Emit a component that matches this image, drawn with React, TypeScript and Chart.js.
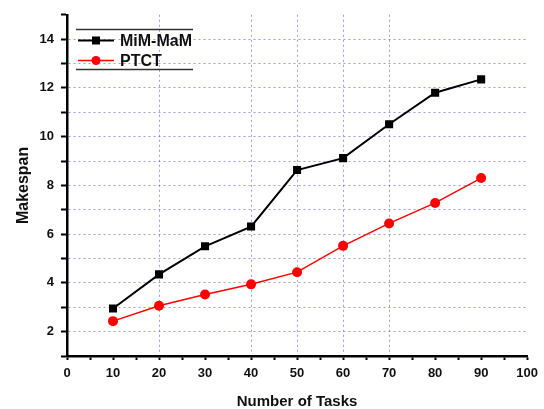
import React, { useEffect, useRef } from "react";
import { Chart, registerables } from "chart.js";

Chart.register(...registerables);

const tasks = [10, 20, 30, 40, 50, 60, 70, 80, 90];
const mimMam = [2.95, 4.35, 5.5, 6.31, 8.63, 9.12, 10.51, 11.8, 12.35];
const ptct = [2.43, 3.06, 3.52, 3.94, 4.44, 5.52, 6.44, 7.28, 8.3];
const seriesNames = ["MiM-MaM", "PTCT"];
const xGridAt = [20, 40, 50, 60, 70];
const yLabelEvery = 2;
const xLabelEvery = 10;

const FONT = "'Liberation Sans', Arial, sans-serif";
const GRID = "rgba(60,60,200,0.5)";

const legendPlugin = {
  id: "boxLegend",
  afterDraw(chart: any) {
    const ctx = chart.ctx as CanvasRenderingContext2D;
    ctx.save();
    ctx.strokeStyle = "#333";
    ctx.lineWidth = 1.5;
    ctx.beginPath();
    ctx.moveTo(76, 29.5);
    ctx.lineTo(193, 29.5);
    ctx.moveTo(76, 69.5);
    ctx.lineTo(193, 69.5);
    ctx.stroke();
    const items = chart.data.datasets.map((d: any, i: number) => ({
      label: d.label,
      color: d.borderColor,
      style: d.pointStyle,
      y: i === 0 ? 40.5 : 60.5,
    }));
    for (const it of items) {
      ctx.strokeStyle = it.color;
      ctx.fillStyle = it.color;
      ctx.lineWidth = it.style === "rect" ? 2 : 1.5;
      ctx.beginPath();
      ctx.moveTo(78, it.y);
      ctx.lineTo(114, it.y);
      ctx.stroke();
      if (it.style === "rect") {
        ctx.fillRect(92, it.y - 4, 8, 8);
      } else {
        ctx.beginPath();
        ctx.arc(96, it.y, 4.5, 0, Math.PI * 2);
        ctx.fill();
      }
      ctx.fillStyle = "#111";
      ctx.font = `bold 16px ${FONT}`;
      ctx.textBaseline = "middle";
      ctx.textAlign = "left";
      ctx.fillText(it.label, 120, it.y + 1);
    }
    ctx.restore();
  },
};

export default function App() {
  const ref = useRef<HTMLCanvasElement | null>(null);
  useEffect(() => {
    if (!ref.current) return;
    const chart = new Chart(ref.current, {
      type: "line",
      data: {
        datasets: [
          {
            label: seriesNames[0],
            data: tasks.map((t, i) => ({ x: t, y: mimMam[i] })),
            borderColor: "#000000",
            backgroundColor: "#000000",
            borderWidth: 2,
            pointStyle: "rect",
            pointRadius: 5.7,
            pointBorderWidth: 0,
          },
          {
            label: seriesNames[1],
            data: tasks.map((t, i) => ({ x: t, y: ptct[i] })),
            borderColor: "#ff0000",
            backgroundColor: "#ff0000",
            borderWidth: 1.5,
            pointStyle: "circle",
            pointRadius: 5,
            pointBorderWidth: 0,
          },
        ],
      },
      options: {
        animation: false,
        responsive: false,
        maintainAspectRatio: false,
        layout: { padding: { top: 10, right: 15, left: 0, bottom: 0 } },
        plugins: { legend: { display: false }, tooltip: { enabled: false } },
        scales: {
          x: {
            type: "linear",
            min: 0,
            max: 100,
            afterFit: (s: any) => {
              s.height = 53;
            },
            ticks: {
              stepSize: 5,
              autoSkip: false,
              maxRotation: 0,
              padding: 6,
              color: "#111",
              font: { family: FONT, size: 13, weight: "bold" },
              callback: (v: any) => (Number(v) % xLabelEvery === 0 ? String(v) : ""),
            },
            grid: {
              color: (c: any) =>
                c.tick && xGridAt.includes(c.tick.value) ? GRID : "rgba(0,0,0,0)",
              lineWidth: 1,
              tickColor: "#000",
              tickWidth: 2,
              tickLength: 4,
            },
            border: { display: true, color: "#000", width: 2.5, dash: [2, 3] },
            title: {
              display: true,
              text: "Number of Tasks",
              color: "#111",
              font: { family: FONT, size: 15, weight: "bold", lineHeight: 1.0 },
              padding: { top: 0, bottom: 0 },
            },
          },
          y: {
            type: "linear",
            min: 1,
            max: 15,
            afterFit: (s: any) => {
              s.width = 67;
            },
            ticks: {
              stepSize: 1,
              autoSkip: false,
              padding: 7,
              color: "#111",
              font: { family: FONT, size: 13, weight: "bold" },
              callback: (v: any) => (Number(v) % yLabelEvery === 0 ? String(v) : ""),
            },
            grid: {
              color: (c: any) =>
                c.tick && c.tick.value > 1 && c.tick.value < 15 ? GRID : "rgba(0,0,0,0)",
              lineWidth: 1,
              tickColor: "#000",
              tickWidth: 2,
              tickLength: 6,
            },
            border: { display: true, color: "#000", width: 2.5, dash: [2, 3] },
            title: {
              display: true,
              text: "Makespan",
              color: "#111",
              font: { family: FONT, size: 16, weight: "bold" },
              padding: { top: 14, bottom: 0 },
            },
          },
        },
      },
      plugins: [legendPlugin],
    });
    return () => chart.destroy();
  }, []);
  return (
    <div style={{ position: "fixed", left: 0, top: 0, width: 544, height: 409, background: "#fff" }}>
      <canvas ref={ref} width={544} height={409} style={{ display: "block" }} />
    </div>
  );
}
